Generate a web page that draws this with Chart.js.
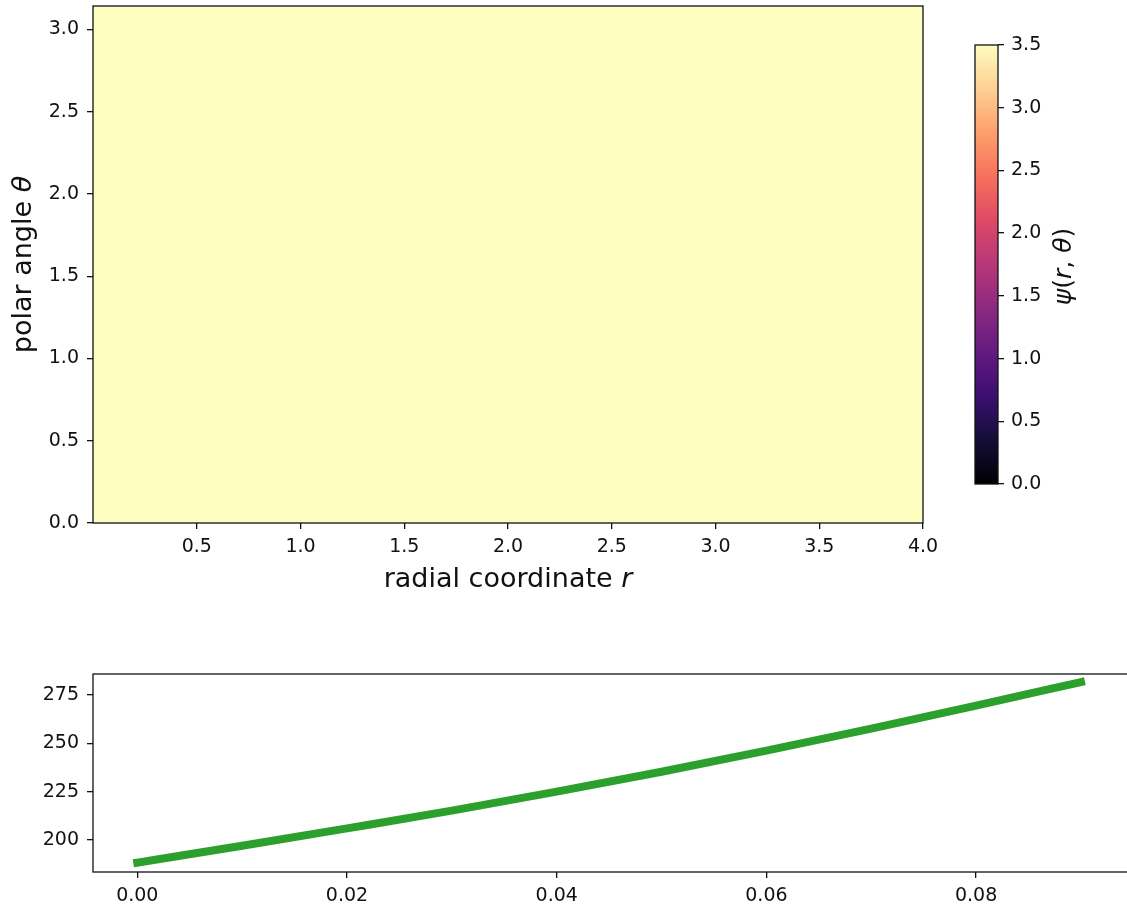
<!DOCTYPE html>
<html>
<head>
<meta charset="utf-8">
<script src="https://cdn.jsdelivr.net/npm/chart.js@4.4.1/dist/chart.umd.min.js"></script>
<style>
html,body{margin:0;padding:0;background:#fff;overflow:hidden;width:1127px;height:909px;position:relative;}
canvas{position:absolute;display:block;}
#c1{left:0;top:0;}
#c2{left:960px;top:0;}
#c3{left:0;top:640px;}
</style>
</head>
<body>
<canvas id="c1" width="960" height="620"></canvas>
<canvas id="c2" width="167" height="500"></canvas>
<canvas id="c3" width="1140" height="269"></canvas>
<script>
// ---------- data ----------
const rEdges = [0.0, 0.5, 1.0, 1.5, 2.0, 2.5, 3.0, 3.5, 4.0];
const thetaEdges = [0.0, 0.7854, 1.5708, 2.3562, 3.1416];
const psiRow0 = [3.5, 3.5, 3.5, 3.5, 3.5, 3.5, 3.5, 3.5];
const psiRow1 = [3.5, 3.5, 3.5, 3.5, 3.5, 3.5, 3.5, 3.5];
const psiRow2 = [3.5, 3.5, 3.5, 3.5, 3.5, 3.5, 3.5, 3.5];
const psiRow3 = [3.5, 3.5, 3.5, 3.5, 3.5, 3.5, 3.5, 3.5];
const psiRows = [psiRow0, psiRow1, psiRow2, psiRow3];
const rTicks = [0.5, 1.0, 1.5, 2.0, 2.5, 3.0, 3.5, 4.0];
const thetaTicks = [0.0, 0.5, 1.0, 1.5, 2.0, 2.5, 3.0];
const cbarTicks = [0.0, 0.5, 1.0, 1.5, 2.0, 2.5, 3.0, 3.5];
const cbarMin = 0.0, cbarMax = 3.5;

const lineX = [0.00, 0.01, 0.02, 0.03, 0.04, 0.05, 0.06, 0.07, 0.08, 0.09];
const lineY = [188.3, 197.0, 206.0, 215.2, 225.0, 235.3, 246.2, 257.6, 269.5, 281.7];
const lineTicksX = [0.00, 0.02, 0.04, 0.06, 0.08];
const lineTicksY = [200, 225, 250, 275];

const xTitleParts = [{t:'radial coordinate ', it:false}, {t:'r', it:true}];
const yTitleParts = [{t:'polar angle ', it:false}, {t:'θ', it:true}];
const cTitleParts = [{t:'ψ', it:true}, {t:'(', it:false}, {t:'r', it:true}, {t:', ', it:false}, {t:'θ', it:true}, {t:')', it:false}];

// ---------- styling ----------
const MAGMA = ['#000004','#140e36','#3b0f70','#641a80','#8c2981','#b73779','#de4968','#f7705c','#fe9f6d','#fecf92','#fcfdbf'];
const FONT = 'DejaVu Sans';
const TICK_SIZE = 19;
const TITLE_SIZE = 27;
const CTITLE_SIZE = 25;
const INK = '#111';

function hex2rgb(h){return [parseInt(h.slice(1,3),16),parseInt(h.slice(3,5),16),parseInt(h.slice(5,7),16)];}
function magma(t){
  t = Math.max(0, Math.min(1, t));
  const p = t*(MAGMA.length-1), i = Math.min(Math.floor(p), MAGMA.length-2), f = p - i;
  const a = hex2rgb(MAGMA[i]), b = hex2rgb(MAGMA[i+1]);
  return 'rgb(' + a.map((v,k)=>Math.round(v+(b[k]-v)*f)).join(',') + ')';
}
function drawRich(ctx, parts, x, y, rot, size){
  ctx.save();
  ctx.translate(x, y); ctx.rotate(rot);
  ctx.textBaseline = 'alphabetic'; ctx.textAlign = 'left'; ctx.fillStyle = INK;
  let total = 0;
  const w = parts.map(p => { ctx.font = (p.it ? 'oblique ' : '') + size + 'px "' + FONT + '"'; const m = ctx.measureText(p.t).width; total += m; return m; });
  let cx = -total/2;
  parts.forEach((p,k) => { ctx.font = (p.it ? 'oblique ' : '') + size + 'px "' + FONT + '"'; ctx.fillText(p.t, cx, 0); cx += w[k]; });
  ctx.restore();
}
const spinePlugin = {
  id: 'spines',
  afterDraw(chart){
    const {ctx, chartArea:a} = chart;
    ctx.save(); ctx.strokeStyle = INK; ctx.lineWidth = 1.3;
    ctx.strokeRect(a.left, a.top, a.right - a.left, a.bottom - a.top);
    ctx.restore();
  }
};
function noPad(s){ s.paddingTop = 0; s.paddingBottom = 0; s.paddingLeft = 0; s.paddingRight = 0; }
function tickAxis(extra){
  return Object.assign({
    grid: {display: true, drawOnChartArea: false, drawTicks: true, tickLength: 6, color: INK, lineWidth: 1.3},
    border: {display: false},
    ticks: {font: {family: FONT, size: TICK_SIZE}, color: INK, padding: 8, maxRotation: 0, autoSkip: false}
  }, extra);
}
Chart.defaults.animation = false;
Chart.defaults.font.family = FONT;

// ---------- heatmap ----------
const heatPlugin = {
  id: 'heat',
  beforeDatasetsDraw(chart){
    const {ctx, scales:{x, y}} = chart;
    ctx.save();
    psiRows.forEach((row, j) => row.forEach((v, i) => {
      const x0 = Math.round(x.getPixelForValue(rEdges[i])), x1 = Math.round(x.getPixelForValue(rEdges[i+1]));
      const y0 = Math.round(y.getPixelForValue(thetaEdges[j+1])), y1 = Math.round(y.getPixelForValue(thetaEdges[j]));
      ctx.fillStyle = magma((v - cbarMin)/(cbarMax - cbarMin));
      ctx.fillRect(x0, y0, x1 - x0, y1 - y0);
    }));
    ctx.restore();
  },
  afterDraw(chart){
    const a = chart.chartArea;
    drawRich(chart.ctx, xTitleParts, (a.left + a.right)/2, 587, 0, TITLE_SIZE);
    drawRich(chart.ctx, yTitleParts, 31, (a.top + a.bottom)/2, -Math.PI/2, TITLE_SIZE);
  }
};
new Chart(document.getElementById('c1'), {
  type: 'scatter',
  data: {datasets: [{data: [], pointRadius: 0}]},
  options: {
    responsive: false, devicePixelRatio: 1,
    layout: {padding: {top: 6, right: 37, left: 0, bottom: 0}},
    plugins: {legend: {display: false}, tooltip: {enabled: false}},
    scales: {
      x: tickAxis({type: 'linear', min: rEdges[0], max: rEdges[rEdges.length-1],
        afterBuildTicks: s => { s.ticks = rTicks.map(v => ({value: v})); },
        afterFit: s => { s.height = 97; noPad(s); },
        ticks: {font: {family: FONT, size: TICK_SIZE}, color: INK, padding: 7, maxRotation: 0, autoSkip: false, callback: v => v.toFixed(1)}}),
      y: tickAxis({type: 'linear', min: thetaEdges[0], max: thetaEdges[thetaEdges.length-1],
        afterBuildTicks: s => { s.ticks = thetaTicks.map(v => ({value: v})); },
        afterFit: s => { s.width = 93; noPad(s); },
        ticks: {font: {family: FONT, size: TICK_SIZE}, color: INK, padding: 8, callback: v => v.toFixed(1)}})
    }
  },
  plugins: [heatPlugin, spinePlugin]
});

// ---------- colorbar ----------
const cbarPlugin = {
  id: 'cbar',
  beforeDatasetsDraw(chart){
    const {ctx, chartArea:a, scales:{y}} = chart;
    const yb = y.getPixelForValue(cbarMin), yt = y.getPixelForValue(cbarMax);
    const g = ctx.createLinearGradient(0, yb, 0, yt);
    MAGMA.forEach((c, k) => g.addColorStop(k/(MAGMA.length-1), c));
    ctx.save(); ctx.fillStyle = g;
    ctx.fillRect(a.left, yt, a.right - a.left, yb - yt);
    ctx.restore();
  },
  afterDraw(chart){
    drawRich(chart.ctx, cTitleParts, 1071 - 960, (chart.chartArea.top + chart.chartArea.bottom)/2 + 2, -Math.PI/2, CTITLE_SIZE);
  }
};
new Chart(document.getElementById('c2'), {
  type: 'scatter',
  data: {datasets: [{data: [], pointRadius: 0}]},
  options: {
    responsive: false, devicePixelRatio: 1,
    layout: {padding: {top: 45, right: 0, left: 15, bottom: 16}},
    plugins: {legend: {display: false}, tooltip: {enabled: false}},
    scales: {
      x: {display: false, min: 0, max: 1},
      y: tickAxis({type: 'linear', position: 'right', min: cbarMin, max: cbarMax,
        afterBuildTicks: s => { s.ticks = cbarTicks.map(v => ({value: v})); },
        afterFit: s => { s.width = 129; noPad(s); },
        ticks: {font: {family: FONT, size: TICK_SIZE}, color: INK, padding: 7, callback: v => v.toFixed(1)}})
    }
  },
  plugins: [cbarPlugin, spinePlugin]
});

// ---------- line chart ----------
const pxPerUnitX = 10485;
new Chart(document.getElementById('c3'), {
  type: 'scatter',
  data: {datasets: [{
    data: lineX.map((x, i) => ({x: x, y: lineY[i]})),
    showLine: true, borderColor: '#2ca02c', borderWidth: 8, pointRadius: 0,
    borderCapStyle: 'square', cubicInterpolationMode: 'monotone'
  }]},
  options: {
    responsive: false, devicePixelRatio: 1,
    layout: {padding: {top: 34, right: 0, left: 0, bottom: 0}},
    plugins: {legend: {display: false}, tooltip: {enabled: false}},
    scales: {
      x: tickAxis({type: 'linear', min: (93 - 137.3)/pxPerUnitX, max: (1140 - 137.3)/pxPerUnitX,
        afterBuildTicks: s => { s.ticks = lineTicksX.map(v => ({value: v})); },
        afterFit: s => { s.height = 37; noPad(s); },
        ticks: {font: {family: FONT, size: TICK_SIZE}, color: INK, padding: 7, maxRotation: 0, autoSkip: false, callback: v => v.toFixed(2)}}),
      y: tickAxis({type: 'linear', min: 183.45, max: 285.86,
        afterBuildTicks: s => { s.ticks = lineTicksY.map(v => ({value: v})); },
        afterFit: s => { s.width = 93; noPad(s); },
        ticks: {font: {family: FONT, size: TICK_SIZE}, color: INK, padding: 8, callback: v => String(v)}})
    }
  },
  plugins: [spinePlugin]
});
</script>
</body>
</html>
